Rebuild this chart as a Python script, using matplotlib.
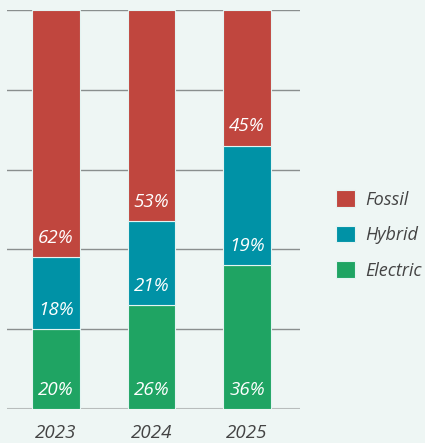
import matplotlib.pyplot as plt
import numpy as np

# data (heights as drawn; labels as printed)
years = ['2023', '2024', '2025']
electric = [20, 26, 36]
hybrid = [18, 21, 30]
fossil = [62, 53, 34]
electric_lbl = ['20%', '26%', '36%']
hybrid_lbl = ['18%', '21%', '19%']
fossil_lbl = ['62%', '53%', '45%']

c_fossil = '#c0463e'
c_hybrid = '#0092a6'
c_electric = '#1fa463'
bg = '#eef6f4'

plt.rcParams['font.family'] = ['Open Sans', 'DejaVu Sans']

fig = plt.figure(figsize=(4.25, 4.43), dpi=100, facecolor=bg)
ax = fig.add_axes([7 / 425, 34 / 443, 293 / 425, 399 / 443], facecolor=bg)

x = np.arange(len(years))
w = 0.5
bottoms = np.zeros(len(years))
bars = []
for vals, lbls, col, name in [(electric, electric_lbl, c_electric, 'Electric'),
                              (hybrid, hybrid_lbl, c_hybrid, 'Hybrid'),
                              (fossil, fossil_lbl, c_fossil, 'Fossil')]:
    b = ax.bar(x, vals, w, bottom=bottoms, color=col, edgecolor='#e4f4f2',
               linewidth=0.8, label=name, zorder=3)
    bars.append(b)
    for xi, lb, b0 in zip(x, lbls, bottoms):
        ax.annotate(lb, (xi, b0), xytext=(0, 14), textcoords='offset points',
                    ha='center', va='center', color='white', fontsize=13.5,
                    style='italic', zorder=4)
    bottoms = bottoms + np.array(vals)

# grid
for g in [20, 40, 60, 80, 100]:
    ax.axhline(g, color='#8a8f8e', linewidth=1, zorder=1)
ax.axhline(0, color='#b8bdbc', linewidth=1.5, zorder=2)

ax.set_xlim(-0.513, 2.555)
ax.set_ylim(0, 100)
ax.set_xticks(x)
ax.set_xticklabels(years, fontsize=13.5, style='italic', color='#444444')
ax.tick_params(axis='x', length=0, pad=11)
ax.set_yticks([])
for s in ax.spines.values():
    s.set_visible(False)

handles = [bars[2], bars[1], bars[0]]
leg = fig.legend(handles, ['Fossil', 'Hybrid', 'Electric'],
                 loc='center left', bbox_to_anchor=(336 / 425, 1 - 235 / 443),
                 frameon=False, fontsize=13, handlelength=1.05, handleheight=1.05,
                 handletextpad=0.55, labelspacing=0.95, borderpad=0, borderaxespad=0)
for t in leg.get_texts():
    t.set_style('italic')
    t.set_color('#444444')

fig.savefig('out.png', dpi=100, facecolor=bg)
